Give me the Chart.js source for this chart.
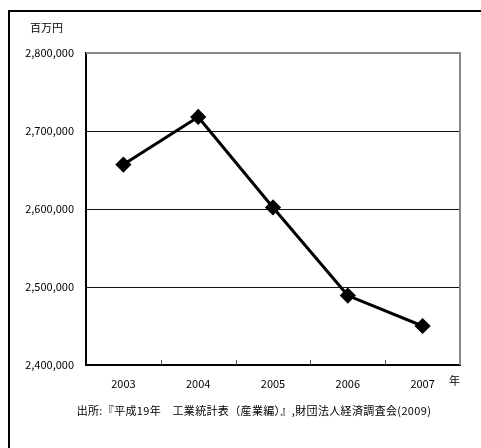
<!DOCTYPE html>
<html>
<head>
<meta charset="utf-8">
<script src="https://cdn.jsdelivr.net/npm/chart.js@4"></script>
<style>
  html, body { margin:0; padding:0; background:#fff; }
  #wrap { position:relative; width:481px; height:448px; overflow:hidden; background:#fff; }
  #frame { position:absolute; left:8px; top:10px; width:480px; height:450px; border-left:2px solid #000; border-top:2px solid #000; box-sizing:border-box; }
  canvas { position:absolute; left:0; top:0; }
  .lbl { position:absolute; font-family:"Noto Sans CJK JP", sans-serif; font-size:11px; color:#000; white-space:nowrap; line-height:1; }
</style>
</head>
<body>
<div id="wrap">
  <div id="frame"></div>
  <canvas id="c" width="481" height="448"></canvas>
  <div class="lbl" id="unitY" style="left:30px; top:22px;">百万円</div>
  <div class="lbl" id="unitX" style="left:449px; top:375px;">年</div>
  <div class="lbl" id="src" style="left:0; width:508px; text-align:center; top:405px; letter-spacing:0.35px;">出所:『平成19年　工業統計表（産業編）』,財団法人経済調査会(2009)</div>
</div>
<script>
const categories = ['2003', '2004', '2005', '2006', '2007'];
const values = [2657000, 2718000, 2602000, 2489000, 2450000];
const yTicks = [2400000, 2500000, 2600000, 2700000, 2800000];

const frameLines = {
  id: 'frameLines',
  beforeDatasetsDraw(chart) {
    const {ctx, chartArea: a, scales: {x}} = chart;
    ctx.save();
    ctx.strokeStyle = '#888';
    ctx.lineWidth = 2;
    ctx.beginPath();
    ctx.moveTo(a.left, a.top); ctx.lineTo(a.right, a.top); ctx.lineTo(a.right, a.bottom);
    ctx.stroke();
    ctx.strokeStyle = '#555';
    ctx.lineWidth = 1;
    for (let i = 1; i < categories.length; i++) {
      const px = Math.round((x.getPixelForValue(i - 1) + x.getPixelForValue(i)) / 2) + 0.5;
      ctx.beginPath(); ctx.moveTo(px, a.bottom); ctx.lineTo(px, a.bottom - 5); ctx.stroke();
    }
    ctx.restore();
  }
};

new Chart(document.getElementById('c'), {
  type: 'line',
  data: {
    labels: categories,
    datasets: [{
      data: values,
      borderColor: '#000',
      backgroundColor: '#000',
      borderWidth: 3,
      pointStyle: 'rectRot',
      pointRadius: 6,
      pointBackgroundColor: '#000',
      pointBorderColor: '#000',
      tension: 0
    }]
  },
  options: {
    responsive: false,
    animation: false,
    events: [],
    layout: { padding: { left: 10, right: 21, top: 53, bottom: 0 } },
    plugins: { legend: { display: false }, tooltip: { enabled: false } },
    scales: {
      x: {
        offset: true,
        grid: { display: false, drawTicks: false },
        border: { color: '#000', width: 2 },
        ticks: { color: '#000', padding: 12, font: { family: '"Noto Sans CJK JP", sans-serif', size: 11 } },
        afterFit(scale) { scale.height = 83; }
      },
      y: {
        min: 2400000,
        max: 2800000,
        afterBuildTicks(scale) { scale.ticks = yTicks.map(v => ({ value: v })); },
        grid: {
          drawTicks: false,
          color: ctx => (ctx.tick && ctx.tick.value === 2800000) ? 'rgba(0,0,0,0)' : '#111',
          lineWidth: 1
        },
        border: { color: '#000', width: 2 },
        ticks: {
          color: '#000',
          padding: 12,
          font: { family: '"Noto Sans CJK JP", sans-serif', size: 11 },
          callback: v => v.toLocaleString('en-US')
        },
        afterFit(scale) { scale.width = 76; }
      }
    }
  },
  plugins: [frameLines]
});
</script>
</body>
</html>
